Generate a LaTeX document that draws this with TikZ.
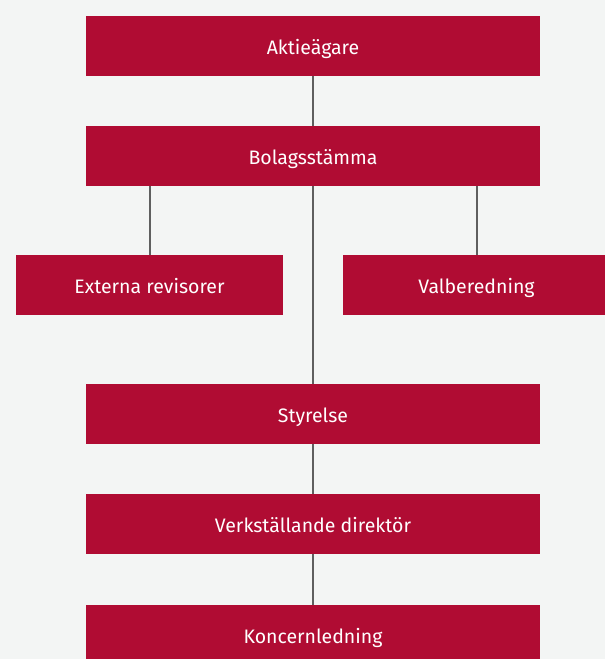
\documentclass[tikz,border=0pt]{standalone}
\usepackage{fontspec}
\setmainfont{Fira Sans}
\usepackage{tikz}
\usetikzlibrary{positioning}
\definecolor{crimson}{RGB}{176,12,51}
\definecolor{paper}{RGB}{243,245,244}
\definecolor{wire}{RGB}{95,95,95}

\tikzset{
  orgbox/.style={fill=crimson,text=white,minimum height=60pt,inner sep=0pt,
    text height=17.5pt,text depth=0pt,font=\fontsize{19.5}{22}\selectfont},
  widebox/.style={orgbox,minimum width=454pt},
  sidebox/.style={orgbox,minimum width=267pt},
  link/.style={wire,line width=2pt}
}

\begin{document}
\begin{tikzpicture}[x=1pt,y=-1pt]
  \useasboundingbox (0,0) rectangle (605,659);
  \fill[paper] (0,0) rectangle (605,659);
  \clip (0,0) rectangle (605,659);
  % main chain
  \node[widebox] (aktie) at (313,46) {Aktieägare};
  \node[widebox] (bolag) at (313,156) {Bolagsstämma};
  \node[sidebox] (revisor) at (149.5,285) {Externa revisorer};
  \node[sidebox] (valb) at (476.5,285) {Valberedning};
  \node[widebox] (styr) at (313,414) {Styrelse};
  \node[widebox] (vd) at (313,524) {Verkställande direktör};
  \node[widebox] (koncern) at (313,635) {Koncernledning};
  % connectors
  \draw[link] (aktie) -- (bolag);
  \draw[link] (bolag) -- (styr);
  \draw[link] (revisor.north) -- (revisor.north |- bolag.south);
  \draw[link] (valb.north) -- (valb.north |- bolag.south);
  \draw[link] (styr) -- (vd);
  \draw[link] (vd) -- (koncern);
\end{tikzpicture}
\end{document}
